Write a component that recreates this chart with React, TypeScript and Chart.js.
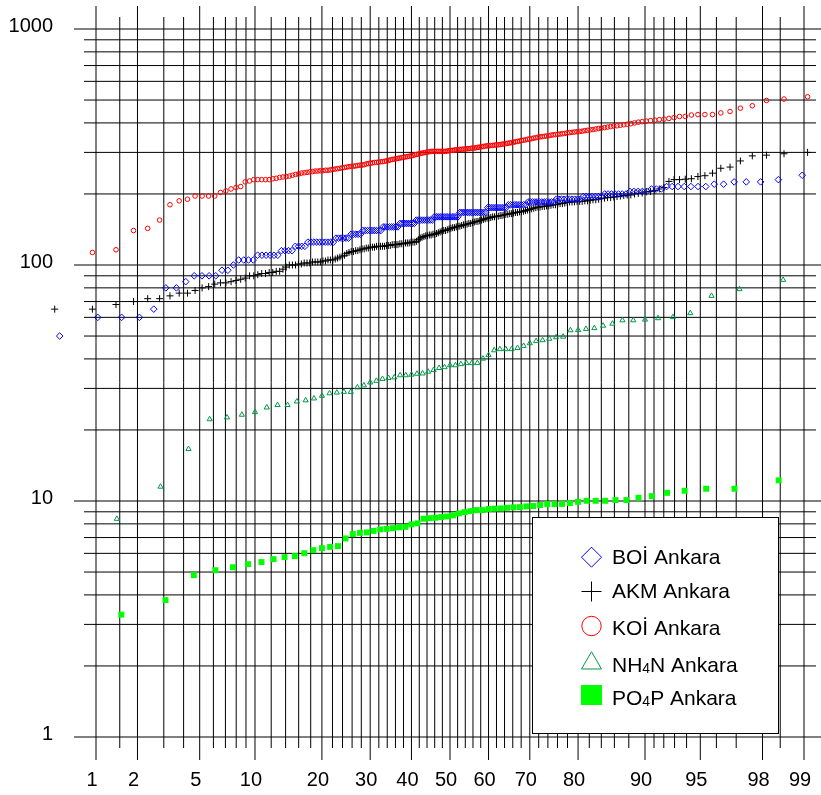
import React, { useEffect, useRef } from 'react';
import { Chart, registerables } from 'chart.js';

Chart.register(...registerables);

// ---- axis definitions (percent probability scale, log y) ----
const X_LABELS = [1, 2, 5, 10, 20, 30, 40, 50, 60, 70, 80, 90, 95, 98, 99];
const X_GRID = [1, 1.5, 2, 3, 4, 5, 6, 7, 8, 9, 10, 12, 14, 16, 18, 20, 22, 24, 26, 28, 30, 32, 34, 36, 38, 40, 42, 44, 46, 48, 50, 52, 54, 56, 58, 60, 62, 64, 66, 68, 70, 72, 74, 76, 78, 80, 82, 84, 86, 88, 90, 91, 92, 93, 94, 95, 96, 97, 98, 98.5, 99];
const Y_LABELS = [1, 10, 100, 1000];

// ---- data: sorted sample values, ranked (plotting position i/(n+1)) ----
const BOI_LEVELS = [50, 60, 65, 80, 85, 90, 95, 100, 105, 110, 115, 120, 125, 130, 135, 140, 145, 150, 155, 160, 167, 175, 180, 185, 190, 195, 200, 205, 210, 215, 220, 225, 230, 240, 250];
const BOI_COUNTS = [1, 3, 1, 2, 1, 4, 2, 1, 4, 6, 4, 4, 10, 6, 5, 9, 8, 8, 9, 13, 14, 10, 9, 12, 10, 7, 7, 5, 3, 7, 2, 3, 1, 1, 1];

const AKM_VALUES = [
  65, 65, 68, 70, 72, 72, 74, 76, 76, 78,
  80, 81, 83, 84, 84, 85, 86, 87, 88, 90,
  90, 91, 92, 92, 93, 93, 94, 94, 96, 98,
  100, 100, 100, 101, 101, 102, 102, 102, 103, 103,
  103, 103, 104, 104, 105, 105, 105, 106, 107, 108,
  109, 110, 112, 113, 114, 114, 115, 115, 116, 117,
  117, 118, 118, 119, 119, 119, 120, 120, 120, 120,
  120, 121, 121, 121, 122, 122, 122, 122, 123, 123,
  123, 124, 124, 124, 125, 125, 125, 126, 128, 130,
  131, 132, 133, 133, 134, 134, 135, 135, 136, 137,
  138, 139, 140, 140, 141, 142, 143, 144, 144, 145,
  146, 146, 147, 148, 148, 149, 150, 150, 151, 152,
  153, 153, 154, 155, 156, 157, 158, 158, 159, 160,
  160, 161, 161, 162, 162, 163, 164, 164, 165, 165,
  166, 167, 167, 168, 168, 169, 170, 171, 172, 173,
  174, 175, 176, 176, 177, 177, 178, 178, 179, 180,
  180, 181, 182, 182, 183, 184, 185, 185, 185, 186,
  186, 186, 187, 187, 188, 189, 189, 190, 191, 192,
  193, 193, 194, 195, 196, 197, 198, 198, 200, 201,
  202, 204, 205, 207, 210, 213, 226, 230, 230, 231,
  232, 237, 239, 245, 257, 260, 276, 290, 292, 296,
  300, 320,
];

const KOI_VALUES: (number | null)[] = [
  null, 113, 116, 140, 143, 155, 180, 187, 190, 196,
  196, 196, 196, 203, 206, 210, 213, 215, 225, 227,
  230, 230, 230, 230, 230, 232, 233, 235, 236, 237,
  238, 240, 242, 243, 245, 246, 247, 248, 249, 250,
  250, 251, 251, 252, 252, 253, 254, 255, 256, 257,
  258, 259, 260, 261, 262, 262, 263, 264, 265, 265,
  266, 268, 269, 270, 271, 272, 272, 273, 274, 274,
  275, 276, 277, 279, 280, 281, 282, 283, 284, 285,
  286, 287, 288, 289, 290, 291, 293, 294, 295, 297,
  298, 299, 300, 301, 302, 303, 303, 303, 303, 303,
  303, 303, 303, 303, 304, 305, 306, 306, 307, 308,
  308, 309, 309, 310, 310, 311, 311, 312, 313, 313,
  314, 315, 316, 317, 318, 319, 320, 320, 321, 321,
  322, 323, 323, 324, 325, 326, 327, 328, 329, 330,
  331, 333, 334, 335, 337, 338, 339, 341, 342, 343,
  345, 346, 348, 349, 350, 351, 352, 353, 355, 356,
  357, 358, 359, 360, 361, 363, 364, 365, 366, 367,
  368, 369, 371, 372, 374, 375, 377, 379, 380, 382,
  384, 386, 388, 389, 391, 393, 395, 397, 400, 403,
  405, 407, 409, 411, 413, 415, 418, 421, 426, 426,
  432, 434, 434, 434, 441, 447, 462, 473, 498, 505,
  516, 540,
];

const NH4N_VALUES = [
  8.4, 11.5, 16.6, 22.2, 22.6, 23.2, 23.8, 24.9, 25.5, 25.5,
  26.4, 26.7, 27.2, 27.9, 28.6, 28.8, 29.0, 29.0, 30.3, 30.9,
  31.8, 32.3, 32.9, 33.2, 33.4, 34.1, 34.1, 34.3, 34.6, 34.7,
  35.3, 35.9, 36.6, 36.9, 37.6, 37.6, 38.0, 38.4, 38.4, 38.4,
  40.1, 41.5, 43.5, 44.0, 44.0, 44.0, 44.5, 45.4, 46.6, 47.6,
  48.0, 48.7, 49.4, 49.7, 52.9, 53.0, 53.6, 54.0, 55.3, 56.4,
  58.3, 58.3, 58.7, 59.5, 60.1, 62.5, 74.0, 79.0, 86.5,
];

const PO4P_VALUES = [
  3.30, 3.80, 4.85, 5.09, 5.24, 5.40, 5.51, 5.67, 5.78, 5.84,
  6.01, 6.19, 6.31, 6.39, 6.44, 6.94, 7.24, 7.33, 7.36, 7.47,
  7.58, 7.62, 7.67, 7.73, 7.77, 7.96, 8.04, 8.41, 8.46, 8.49,
  8.55, 8.60, 8.69, 8.86, 8.97, 9.06, 9.15, 9.15, 9.25, 9.28,
  9.30, 9.36, 9.40, 9.42, 9.49, 9.52, 9.61, 9.70, 9.70, 9.72,
  9.80, 9.92, 10.02, 10.02, 10.02, 10.09, 10.09, 10.32, 10.49, 10.83,
  11.05, 11.27, 11.27, 12.23,
];

const SERIES_NAMES = ['BOİ Ankara', 'AKM Ankara', 'KOİ Ankara', 'NH4N Ankara', 'PO4P Ankara'];

const BLUE = '#0000FF';
const RED = '#FF0000';
const DARK_GREEN = '#00994A';
const LIGHT_GREEN = '#00FF00';
const FONT = '"Liberation Sans", Arial, Helvetica, sans-serif';

// inverse standard normal CDF (Acklam) – the probability-paper transform
function invNorm(p: number): number {
  const a = [-3.969683028665376e1, 2.209460984245205e2, -2.759285104469687e2, 1.38357751867269e2, -3.066479806614716e1, 2.506628277459239];
  const b = [-5.447609879822406e1, 1.615858368580409e2, -1.556989798598866e2, 6.680131188771972e1, -1.328068155288572e1];
  const c = [-7.784894002430293e-3, -3.223964580411365e-1, -2.400758277161838, -2.549732539343734, 4.374664141464968, 2.938163982698783];
  const d = [7.784695709041462e-3, 3.224671290700398e-1, 2.445134137142996, 3.754408661907416];
  const pl = 0.02425;
  if (p < pl) {
    const q = Math.sqrt(-2 * Math.log(p));
    return (((((c[0] * q + c[1]) * q + c[2]) * q + c[3]) * q + c[4]) * q + c[5]) / ((((d[0] * q + d[1]) * q + d[2]) * q + d[3]) * q + 1);
  }
  if (p <= 1 - pl) {
    const q = p - 0.5;
    const r = q * q;
    return ((((((a[0] * r + a[1]) * r + a[2]) * r + a[3]) * r + a[4]) * r + a[5]) * q) / (((((b[0] * r + b[1]) * r + b[2]) * r + b[3]) * r + b[4]) * r + 1);
  }
  const q = Math.sqrt(-2 * Math.log(1 - p));
  return -(((((c[0] * q + c[1]) * q + c[2]) * q + c[3]) * q + c[4]) * q + c[5]) / ((((d[0] * q + d[1]) * q + d[2]) * q + d[3]) * q + 1);
}

// points listed from highest rank to lowest, so Chart.js does not trim the
// markers that lie just outside the 1 %–99 % range
function probPoints(values: (number | null)[]) {
  const n = values.length;
  const pts: { x: number; y: number }[] = [];
  values.forEach((v, i) => {
    if (v != null) pts.push({ x: invNorm((i + 1) / (n + 1)), y: v });
  });
  return pts.reverse();
}

const gridPlugin = {
  id: 'probGrid',
  beforeDatasetsDraw(chart: any) {
    const { ctx, chartArea: a } = chart;
    const xs = chart.scales.x;
    const ys = chart.scales.y;
    ctx.save();
    ctx.strokeStyle = '#000';
    ctx.lineWidth = 1;
    ctx.beginPath();
    for (const p of X_GRID) {
      const x = xs.getPixelForValue(invNorm(p / 100));
      const major = X_LABELS.includes(p);
      ctx.moveTo(x, a.top - (major ? 23 : 12));
      ctx.lineTo(x, a.bottom + (major ? 23 : 11));
    }
    for (let dec = 1; dec <= 1000; dec *= 10) {
      for (let m = 1; m <= 9; m++) {
        const v = m * dec;
        if (v > 1000) break;
        const y = ys.getPixelForValue(v);
        const major = m === 1;
        ctx.moveTo(a.left - (major ? 22 : 12), y);
        ctx.lineTo(a.right + (major ? 23 : 12), y);
      }
    }
    ctx.stroke();
    ctx.restore();
    // let markers that fall just outside the probability range be drawn too
    chart.$savedArea = a;
    chart.chartArea = { ...a, left: 0, top: 0, right: chart.width, bottom: chart.height };
  },
};

function drawSubText(ctx: CanvasRenderingContext2D, x: number, y: number, pre: string, sub: string, post: string) {
  ctx.font = `21px ${FONT}`;
  ctx.fillText(pre, x, y);
  let cx = x + ctx.measureText(pre).width;
  ctx.font = `14px ${FONT}`;
  ctx.fillText(sub, cx, y + 1);
  cx += ctx.measureText(sub).width;
  ctx.font = `21px ${FONT}`;
  ctx.fillText(post, cx, y);
}

const legendPlugin = {
  id: 'boxLegend',
  afterDatasetsDraw(chart: any) {
    if (chart.$savedArea) {
      chart.chartArea = chart.$savedArea;
      chart.$savedArea = null;
    }
    const { ctx } = chart;
    ctx.save();
    ctx.fillStyle = '#fff';
    ctx.fillRect(532.5, 517.5, 246, 216);
    ctx.strokeStyle = '#000';
    ctx.lineWidth = 1;
    ctx.strokeRect(532.5, 517.5, 246, 216);

    const mx = 591.5;
    // diamond
    ctx.strokeStyle = BLUE;
    ctx.beginPath();
    ctx.moveTo(mx, 547.2);
    ctx.lineTo(mx + 10, 557.2);
    ctx.lineTo(mx, 567.2);
    ctx.lineTo(mx - 10, 557.2);
    ctx.closePath();
    ctx.stroke();
    // plus
    ctx.strokeStyle = '#000';
    ctx.beginPath();
    ctx.moveTo(mx - 10, 591.5);
    ctx.lineTo(mx + 10, 591.5);
    ctx.moveTo(mx, 581.5);
    ctx.lineTo(mx, 601.5);
    ctx.stroke();
    // circle
    ctx.strokeStyle = RED;
    ctx.beginPath();
    ctx.arc(mx, 626, 9.7, 0, Math.PI * 2);
    ctx.stroke();
    // triangle
    ctx.strokeStyle = DARK_GREEN;
    ctx.beginPath();
    ctx.moveTo(mx, 651.7);
    ctx.lineTo(mx + 10, 669);
    ctx.lineTo(mx - 10, 669);
    ctx.closePath();
    ctx.stroke();
    // square
    ctx.fillStyle = LIGHT_GREEN;
    ctx.fillRect(581, 685, 21, 20);

    ctx.fillStyle = '#000';
    ctx.textBaseline = 'alphabetic';
    ctx.textAlign = 'left';
    ctx.font = `21px ${FONT}`;
    const tx = 612;
    ctx.fillText(SERIES_NAMES[0], tx, 564);
    ctx.fillText(SERIES_NAMES[1], tx, 597.5);
    ctx.fillText(SERIES_NAMES[2], tx, 634.5);
    drawSubText(ctx, tx, 671.7, 'NH', '4', 'N Ankara');
    drawSubText(ctx, tx, 705, 'PO', '4', 'P Ankara');
    ctx.restore();
  },
};

export default function App() {
  const ref = useRef<HTMLCanvasElement | null>(null);

  useEffect(() => {
    if (!ref.current) return;
    const boiValues = BOI_LEVELS.flatMap((v, i) => Array(BOI_COUNTS[i]).fill(v));

    const chart = new Chart(ref.current, {
      type: 'scatter',
      data: {
        datasets: [
          {
            label: SERIES_NAMES[0],
            data: probPoints(boiValues),
            pointStyle: 'rectRot',
            pointRadius: 3.3,
            borderColor: BLUE,
            backgroundColor: 'rgba(0,0,0,0)',
            borderWidth: 1,
            clip: false,
          } as any,
          {
            label: SERIES_NAMES[1],
            data: probPoints(AKM_VALUES),
            pointStyle: 'cross',
            pointRadius: 3.5,
            borderColor: '#000',
            backgroundColor: 'rgba(0,0,0,0)',
            borderWidth: 1,
            clip: false,
          },
          {
            label: SERIES_NAMES[2],
            data: probPoints(KOI_VALUES),
            pointStyle: 'circle',
            pointRadius: 2.3,
            borderColor: RED,
            backgroundColor: 'rgba(0,0,0,0)',
            borderWidth: 1,
            clip: false,
          },
          {
            label: SERIES_NAMES[3],
            data: probPoints(NH4N_VALUES),
            pointStyle: 'triangle',
            pointRadius: 3,
            borderColor: DARK_GREEN,
            backgroundColor: 'rgba(0,0,0,0)',
            borderWidth: 1,
            clip: false,
          },
          {
            label: SERIES_NAMES[4],
            data: probPoints(PO4P_VALUES),
            pointStyle: 'rect',
            pointRadius: 4.2,
            borderColor: LIGHT_GREEN,
            backgroundColor: LIGHT_GREEN,
            borderWidth: 0,
            clip: false,
          },
        ],
      },
      options: {
        animation: false,
        responsive: false,
        devicePixelRatio: 1,
        events: [],
        layout: { padding: { left: 0, right: 17, top: 29, bottom: 0 } },
        plugins: { legend: { display: false }, tooltip: { enabled: false } },
        scales: {
          x: {
            type: 'linear',
            min: invNorm(0.01),
            max: invNorm(0.99),
            grid: { display: false, drawTicks: false },
            border: { display: false },
            afterBuildTicks: (scale: any) => {
              scale.ticks = X_LABELS.map((p) => ({ value: invNorm(p / 100) }));
            },
            afterFit: (scale: any) => {
              scale.height = 58;
              scale.paddingLeft = 0;
              scale.paddingRight = 0;
              scale.paddingTop = 0;
              scale.paddingBottom = 0;
            },
            ticks: {
              autoSkip: false,
              maxRotation: 0,
              minRotation: 0,
              padding: 31,
              labelOffset: -4,
              color: '#000',
              font: { family: FONT, size: 20 },
              callback: (_v: any, i: number) => String(X_LABELS[i]),
            },
          },
          y: {
            type: 'logarithmic',
            min: 1,
            max: 1000,
            grid: { display: false, drawTicks: false },
            border: { display: false },
            afterBuildTicks: (scale: any) => {
              scale.ticks = Y_LABELS.map((v) => ({ value: v }));
            },
            afterFit: (scale: any) => {
              scale.width = 96;
              scale.paddingLeft = 0;
              scale.paddingRight = 0;
              scale.paddingTop = 0;
              scale.paddingBottom = 0;
            },
            ticks: {
              autoSkip: false,
              padding: 43,
              labelOffset: -3,
              color: '#000',
              font: { family: FONT, size: 20 },
              callback: (v: any) => String(v),
            },
          },
        },
      },
      plugins: [gridPlugin, legendPlugin],
    });
    return () => chart.destroy();
  }, []);

  return (
    <div style={{ position: 'fixed', left: 0, top: 0, width: 821, height: 795, background: '#fff' }}>
      <canvas ref={ref} width={821} height={795} style={{ display: 'block', width: 821, height: 795 }} />
    </div>
  );
}
